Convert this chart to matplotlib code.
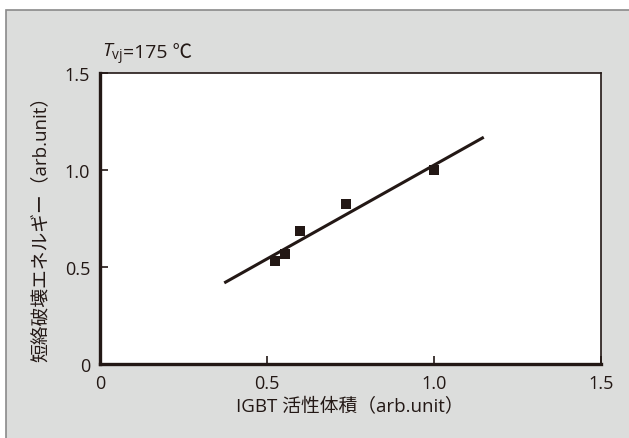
import matplotlib.pyplot as plt
from matplotlib.patches import Rectangle

plt.rcParams['font.family'] = ['Open Sans', 'Noto Sans CJK JP', 'DejaVu Sans']
plt.rcParams['mathtext.fontset'] = 'custom'
plt.rcParams['mathtext.it'] = 'Open Sans:italic'
plt.rcParams['mathtext.rm'] = 'Open Sans'

# データ
volume = [0.524, 0.555, 0.598, 0.737, 0.999]
energy = [0.531, 0.567, 0.684, 0.823, 1.002]
fit_x = [0.372, 1.149]
fit_y = [0.418, 1.169]
ticks = [0, 0.5, 1.0, 1.5]
tick_labels = ['0', '0.5', '1.0', '1.5']

ink = '#231815'
bg = '#dcdddc'
W, H = 629, 439

fig = plt.figure(figsize=(W / 100, H / 100), dpi=100)
fig.patch.set_facecolor('white')

# 背景パネル
fig.patches.append(Rectangle((6 / W, -0.01), 1, 1.01 - 11 / H, transform=fig.transFigure,
                             facecolor=bg, edgecolor='#8a8a8a', linewidth=1.2, zorder=-10))

ax = fig.add_axes([100 / W, 1 - 365 / H, (601 - 100) / W, (365 - 74) / H])
ax.set_zorder(5)
ax.set_facecolor('white')

ax.plot(fit_x, fit_y, color=ink, linewidth=2.2, solid_capstyle='butt')
ax.plot(volume, energy, 's', color=ink, markersize=7.5, markeredgewidth=0)

ax.set_xlim(0, 1.5)
ax.set_ylim(0, 1.5)
ax.set_xticks(ticks)
ax.set_xticklabels(tick_labels)
ax.set_yticks(ticks)
ax.set_yticklabels(tick_labels)
ax.tick_params(direction='in', length=6, width=1.2, color=ink, labelsize=13,
               labelcolor=ink, pad=7)

for side in ['left', 'bottom']:
    ax.spines[side].set_linewidth(2.4)
    ax.spines[side].set_color(ink)
for side in ['top', 'right']:
    ax.spines[side].set_linewidth(1.2)
    ax.spines[side].set_color(ink)

# 軸ラベル
fig.text(350 / W, 1 - 407 / H, 'IGBT 活性体積（arb.unit）', fontsize=13.5, color=ink,
         ha='center', va='center', zorder=6)
fig.text(41 / W, 1 - 224 / H, '短絡破壊エネルギー（arb.unit）', fontsize=13.5, color=ink,
         rotation=90, ha='center', va='center', zorder=6)

# 温度条件: 記号部分と数値部分を分けて描く
t1 = fig.text(102 / W, 1 - 58 / H, r'$T_{\mathrm{vj}}$', fontsize=14,
              color=ink, ha='left', va='baseline', zorder=6)
fig.canvas.draw()
bb = t1.get_window_extent()
fig.text(bb.x1 / W, 1 - 58 / H, '=175 ℃', fontsize=14,
         color=ink, ha='left', va='baseline', zorder=6)

fig.savefig('out.png', dpi=100, facecolor=fig.get_facecolor())
